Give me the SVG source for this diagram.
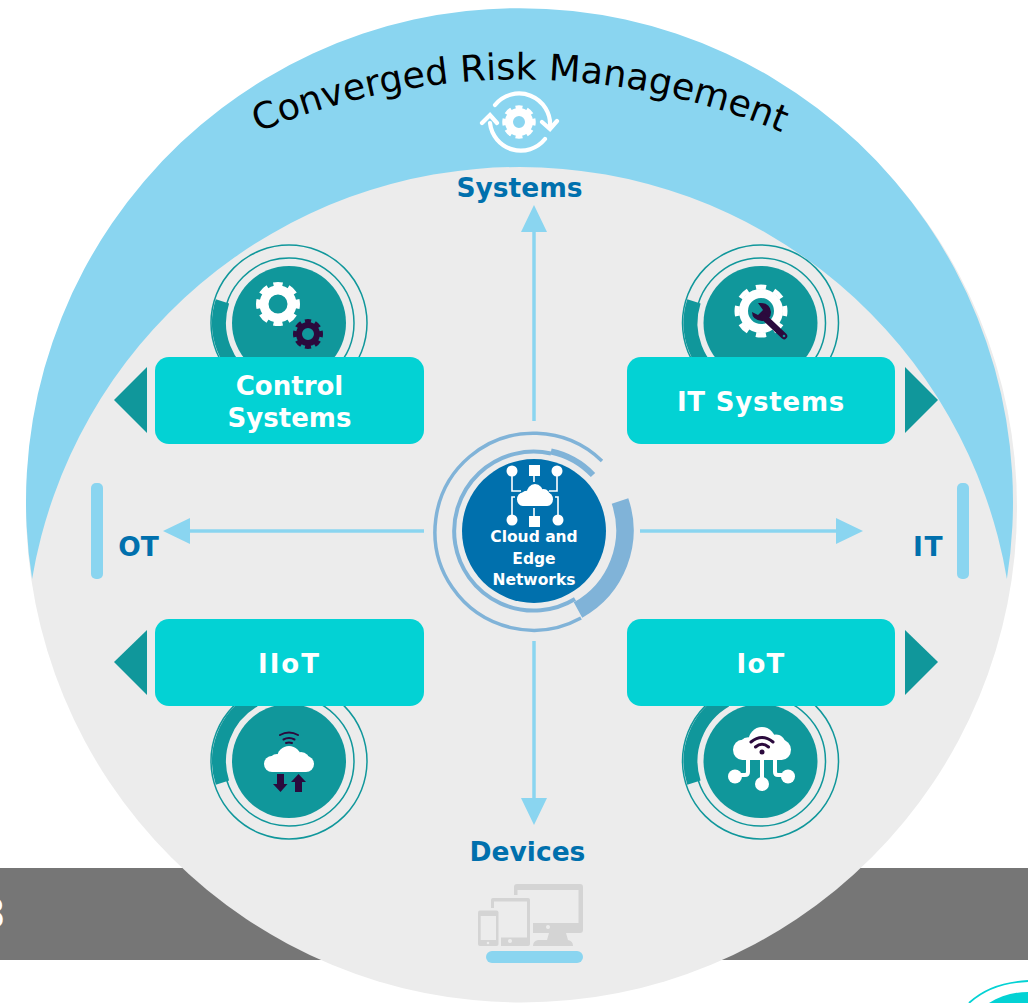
<svg xmlns="http://www.w3.org/2000/svg" width="1028" height="1003" viewBox="0 0 1028 1003">
<style>
text{font-family:"DejaVu Sans",Verdana,sans-serif;font-weight:700;text-anchor:middle}
.lbl{fill:#fff;font-size:26px}
.blue{fill:#0070AD;font-size:26.500px}
.box{fill:#03D2D4}
.tri{fill:#10979B}
.disk{fill:#10979B}
.thin{fill:none;stroke:#10979B;stroke-width:1.500}
.thk{fill:none;stroke:#10979B;stroke-width:14}
.ln{fill:none;stroke:#8AD5F0;stroke-width:3.500}
.head{fill:#8AD5F0}
.w{fill:#fff}
.d{fill:#2B0A3D}
.ws{fill:none;stroke:#fff;stroke-linecap:round}
.ds{fill:none;stroke:#2B0A3D;stroke-linecap:round}
.ring{fill:none;stroke:#80B3D8}
.dev{fill:#D4D4D4}
.bg{fill:#ECECEC}
</style>
<defs>
<g id="cloud"><rect x="0" y="10" width="50" height="16" rx="8"/><circle cx="25" cy="12" r="12"/><circle cx="13" cy="16" r="8"/><circle cx="37" cy="15" r="9"/></g>
<path id="arc" d="M252,135 A675,675 0 0 1 788,135"/>
</defs>

<rect id="band" x="0" y="868" width="1028" height="92" fill="#767676"/>
<text x="-8" y="928" font-size="40" fill="#fff">3</text>
<g id="logo"><path d="M969,1003 C985,988 1005,982 1028,981" fill="none" stroke="#03D2D4" stroke-width="1.800"/><path d="M989,1003 C1000,996 1013,992 1028,992 V1003 Z" fill="#03D2D4"/></g>

<g id="background">
<circle cx="521.500" cy="507" r="495.500" fill="#ECECEC"/>
<path d="M32.100,579 A493.500,493.500 0 1 1 1006.900,579 A494.300,494.300 0 0 0 32.100,579 Z" fill="#8AD5F0"/>
</g>

<g id="title">
<text font-size="36.500" style="font-weight:400" fill="#000"><textPath href="#arc" startOffset="50%">Converged Risk Management</textPath></text>
<g id="cycle-icon">
<path class="ws" stroke-width="4.200" d="M495,105 A31,31 0 0 1 550,127 M545,139 A31,31 0 0 1 490,123"/>
<path class="ws" stroke-width="4.200" d="M542,122 L550,129 L557,121 M482,123 L490,115 L497,123"/>
<circle cx="519" cy="122" r="10" fill="none" stroke="#fff" stroke-width="8"/>
<circle cx="519" cy="122" r="14.500" fill="none" stroke="#fff" stroke-width="4.500" pathLength="80" stroke-dasharray="6 4" stroke-dashoffset="3"/>
</g>
</g>

<g id="connectors">
<path class="ln" d="M534,421 V228 M534,641 V802 M424,531 H186 M640,531 H840"/>
<path class="head" d="M521,232 L534,205 L547,232 Z M521,798 L547,798 L534,825 Z M190,518 L190,544 L163,531 Z M836,518 L836,544 L863,531 Z"/>
</g>

<g id="axis-systems"><text class="blue" x="519.500" y="197">Systems</text></g>
<g id="axis-devices">
<text class="blue" x="527.500" y="861">Devices</text>
<path class="dev" fill-rule="evenodd" d="M517,884 H580 a3,3 0 0 1 3,3 V930 a3,3 0 0 1 -3,3 H517 a3,3 0 0 1 -3,-3 V887 a3,3 0 0 1 3,-3 Z M517.500,890 V923 H578.500 V890 Z"/>
<rect class="bg" x="505" y="895" width="28" height="55"/>
<path class="dev" d="M549,933 H566 L568,940 Q573,941 573,946 H533 Q533,941 538,940 L547,940 Z"/>
<circle cx="548" cy="927" r="2" class="bg"/>
<rect class="dev" x="491" y="898" width="39" height="48" rx="2"/>
<rect class="bg" x="494" y="901.500" width="33" height="36"/>
<circle cx="510" cy="941" r="2" class="bg"/>
<rect class="bg" x="488" y="908" width="13" height="42"/>
<rect class="dev" x="478" y="910.500" width="20.500" height="35.500" rx="2"/>
<rect class="bg" x="480.700" y="916" width="15.300" height="24"/>
<circle cx="488" cy="943" r="1.300" class="bg"/>
<rect x="486" y="951" width="97" height="12" rx="6" fill="#8AD5F0"/>
</g>

<g id="axis-ot">
<rect x="91" y="483" width="12" height="96" rx="5" fill="#8AD5F0"/>
<text class="blue" x="138.500" y="556">OT</text>
</g>
<g id="axis-it">
<rect x="957" y="483" width="12" height="96" rx="5" fill="#8AD5F0"/>
<text class="blue" x="928.500" y="556" letter-spacing="1.500">IT</text>
</g>

<g id="node-control-systems">
<circle class="thin" cx="289" cy="323" r="78"/>
<circle class="thin" cx="289" cy="323" r="65" stroke-width="1"/>
<circle class="thk" cx="289" cy="323" r="70" pathLength="360" stroke-dasharray="78 282" transform="rotate(120 289 323)"/>
<circle class="disk" cx="289" cy="323" r="57"/>
<circle cx="278" cy="304" r="14" fill="none" stroke="#fff" stroke-width="9"/>
<circle cx="278" cy="304" r="19.500" fill="none" stroke="#fff" stroke-width="5" pathLength="80" stroke-dasharray="6 4" stroke-dashoffset="3"/>
<circle cx="308" cy="334" r="9" fill="none" stroke="#2B0A3D" stroke-width="6"/>
<circle cx="308" cy="334" r="13" fill="none" stroke="#2B0A3D" stroke-width="4" pathLength="80" stroke-dasharray="6 4" stroke-dashoffset="3"/>
<rect class="box" x="155" y="357" width="269" height="87" rx="14"/>
<path class="tri" d="M147,367 V433 L114,400 Z"/>
<text class="lbl" x="289.500" y="395">Control</text>
<text class="lbl" x="289.500" y="427">Systems</text>
</g>

<g id="node-it-systems">
<circle class="thin" cx="760.500" cy="323" r="78"/>
<circle class="thin" cx="760.500" cy="323" r="65" stroke-width="1"/>
<circle class="thk" cx="760.500" cy="323" r="70" pathLength="360" stroke-dasharray="78 282" transform="rotate(120 760.500 323)"/>
<circle class="disk" cx="760.500" cy="323" r="57"/>
<circle cx="761" cy="311" r="17.500" fill="none" stroke="#fff" stroke-width="9"/>
<circle cx="761" cy="311" r="24" fill="none" stroke="#fff" stroke-width="5" pathLength="80" stroke-dasharray="5.500 4.500" stroke-dashoffset="2.750"/>
<path class="d" d="M752,312 L758,315 L763,310 L758,303 Q770,302 771,312 Q771,320 762,321 Q752,320 752,312 Z"/>
<path class="ds" stroke-width="6.500" d="M764,317 L784,336"/>
<circle cx="784" cy="336" r="1.300" fill="#10979B"/>
<rect class="box" x="627" y="357" width="268" height="87" rx="14"/>
<path class="tri" d="M905,367 V433 L938,400 Z"/>
<text class="lbl" x="761" y="411" letter-spacing="0.800">IT Systems</text>
</g>

<g id="node-iiot">
<circle class="thin" cx="289" cy="761" r="78"/>
<circle class="thin" cx="289" cy="761" r="65" stroke-width="1"/>
<circle class="thk" cx="289" cy="761" r="70" pathLength="360" stroke-dasharray="78 282" transform="rotate(162 289 761)"/>
<circle class="disk" cx="289" cy="761" r="57"/>
<use href="#cloud" transform="translate(264,746)" fill="#fff"/>
<path class="ds" stroke-width="2" d="M280,735 Q289,730 298,735 M283.500,739.500 Q289,736.500 294.500,739.500 M286,743 Q289,742 292,743"/>
<path class="d" d="M277,774 H284 V784 H287.500 L280.500,792 L273,784 H277 Z M295,792 H302 V782 H306 L298.500,774 L291,782 H295 Z"/>
<rect class="box" x="155" y="619" width="269" height="87" rx="14"/>
<path class="tri" d="M147,630 V695 L114,662 Z"/>
<text class="lbl" x="289.500" y="673" letter-spacing="2">IIoT</text>
</g>

<g id="node-iot">
<circle class="thin" cx="760.500" cy="761" r="78"/>
<circle class="thin" cx="760.500" cy="761" r="65" stroke-width="1"/>
<circle class="thk" cx="760.500" cy="761" r="70" pathLength="360" stroke-dasharray="78 282" transform="rotate(162 760.500 761)"/>
<circle class="disk" cx="760.500" cy="761" r="57"/>
<use href="#cloud" transform="translate(733,727) scale(1.160,1.270)" fill="#fff"/>
<path class="ws" stroke-width="4" fill="none" d="M762,758 V783 M748,758 V772 Q748,775 745,775 H736 M775,758 V772 Q775,775 778,775 H788"/>
<circle class="w" cx="762" cy="784" r="7"/><circle class="w" cx="735" cy="776.500" r="7"/><circle class="w" cx="788" cy="776.500" r="7"/>
<path class="ds" stroke-width="3" d="M751,742 Q762,733 773,742 M755.500,747 Q762,741.500 768.500,747"/>
<circle class="d" cx="762" cy="752" r="2.500"/>
<rect class="box" x="627" y="619" width="268" height="87" rx="14"/>
<path class="tri" d="M905,630 V695 L938,662 Z"/>
<text class="lbl" x="761" y="673" letter-spacing="1.200">IoT</text>
</g>

<g id="node-cloud-edge">
<path class="ring" stroke-width="3.500" d="M602,461 A98.500,98.500 0 1 0 581,618"/>
<path class="ring" stroke-width="4" d="M551,453.500 A79.500,79.500 0 1 0 575,599"/>
<path class="ring" stroke-width="6" d="M551,451.500 A81,81 0 0 1 593,475"/>
<path class="ring" stroke-width="17.500" d="M620,501 A91,91 0 0 1 578,610"/>
<circle cx="534" cy="531" r="72" fill="#0070AD"/>
<use href="#cloud" transform="translate(517,484) scale(0.720,0.850)" fill="#fff"/>
<circle class="w" cx="512" cy="471" r="5.500"/><rect class="w" x="529" y="465" width="11" height="11"/><circle class="w" cx="557" cy="471" r="5.500"/>
<circle class="w" cx="512" cy="520" r="5.500"/><rect class="w" x="529" y="516" width="11" height="11"/><circle class="w" cx="558" cy="520" r="5.500"/>
<path fill="none" stroke="#fff" stroke-width="1.600" d="M512,476 V491 H521 M534,476 V482 M557,476 V491 H549 M515,497 H512 V515 M555,497 H558 V515 M534,508 V516"/>
<text x="534" y="542" fill="#fff" font-size="15.500">Cloud and</text>
<text x="534" y="564" fill="#fff" font-size="15.500">Edge</text>
<text x="534" y="585" fill="#fff" font-size="15.500">Networks</text>
</g>
</svg>
